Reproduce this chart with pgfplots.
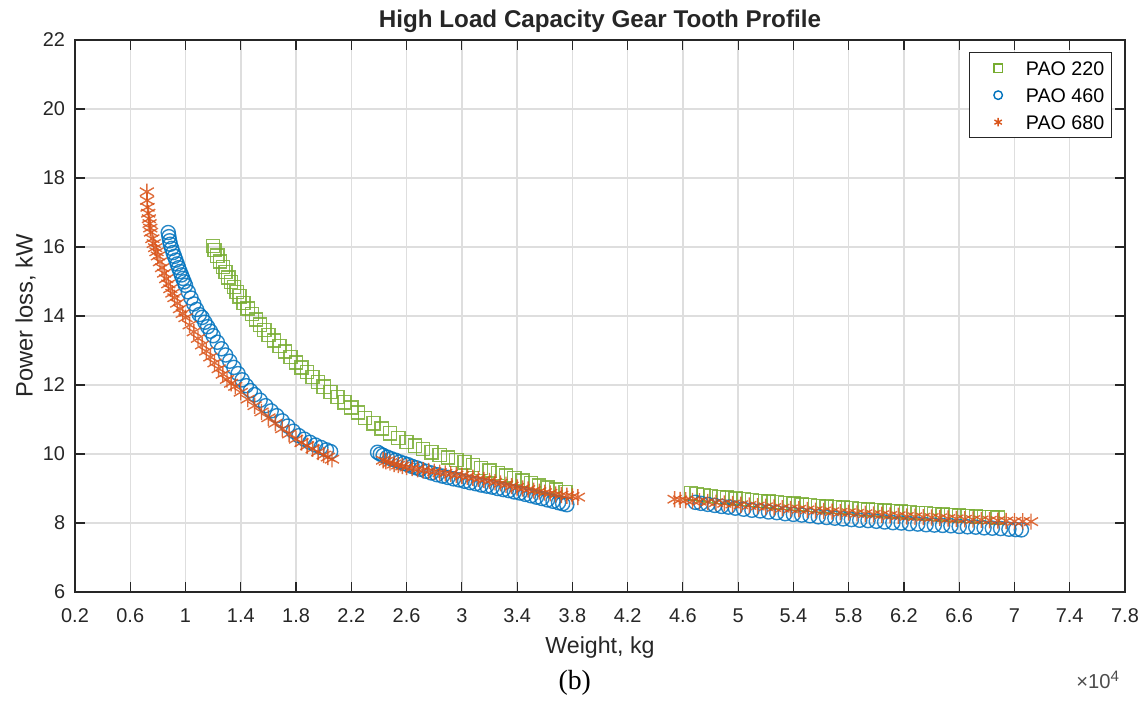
\documentclass[border=0pt]{standalone}
\usepackage{fontspec}
\setmainfont{Liberation Sans}
\newfontfamily\capfont{Liberation Serif}
\usepackage{pgfplots}
\pgfplotsset{compat=1.18}

\definecolor{pao220}{HTML}{77AC30}
\definecolor{pao460}{HTML}{0072BD}
\definecolor{pao680}{HTML}{D95319}
\definecolor{axcol}{HTML}{262626}
\definecolor{gridcol}{HTML}{DEDEDE}

\begin{document}
\begin{tikzpicture}
\begin{axis}[
  name=ax,
  scale only axis, width=14.634cm, height=7.693cm,
  xmin=0.2, xmax=7.8, ymin=6, ymax=22,
  xtick={0.2,0.6,1,1.4,1.8,2.2,2.6,3,3.4,3.8,4.2,4.6,5,5.4,5.8,6.2,6.6,7,7.4,7.8},
  ytick={6,8,10,12,14,16,18,20,22},
  /pgf/number format/assume math mode=true,
  tick label style={font=\fontsize{7.9}{9}\selectfont, text=axcol},
  xticklabel style={anchor=base, yshift=-11.9pt},
  yticklabel style={xshift=-0.4pt},
  major tick length=4.1pt, tick align=inside,
  tick style={axcol, line width=0.45pt},
  axis line style={axcol, line width=0.5pt},
  grid=major, grid style={gridcol, line width=0.6pt},
  title={High Load Capacity Gear Tooth Profile},
  every axis title shift=0pt,
  title style={at={(axis description cs:0.5,1)}, anchor=base, yshift=5.1pt,
    font=\bfseries\fontsize{9.6}{11}\selectfont, text=axcol},
  xlabel={Weight, kg},
  xlabel style={at={(axis description cs:0.5,-0.1105)}, anchor=base,
    font=\fontsize{9.2}{11}\selectfont, text=axcol},
  ylabel={Power loss, kW},
  ylabel style={at={(axis description cs:-0.0403,0.5)}, anchor=base,
    font=\fontsize{9.4}{11}\selectfont, text=axcol},
  legend cell align=left,
  legend style={at={(axis description cs:0.9876,0.978)}, anchor=north east,
    draw=axcol, line width=0.5pt, fill=white,
    inner xsep=2.8pt, inner ysep=0.75pt, row sep=0pt,
    font=\fontsize{7.8}{9}\selectfont, text=black,
    nodes={inner xsep=0pt, inner ysep=0pt, text height=8.15pt, text depth=2.55pt}},
  legend image code/.code={\path[draw=none, fill=none] (0pt,0pt) -- (19.7pt,0pt);
    \path[#1, mark size=1.7pt, opacity=1] plot[only marks] coordinates {(8.7pt,0pt)};},
  clip=false,
]
\addplot[only marks, mark=square, mark size=2.6pt, pao220, line width=0.55pt, opacity=0.85] coordinates {
(1.20,16.03) (1.21,15.92) (1.23,15.75) (1.25,15.58) (1.27,15.42) (1.29,15.27) (1.31,15.12) (1.33,14.98)
(1.35,14.84) (1.37,14.70) (1.39,14.57) (1.42,14.38) (1.45,14.22) (1.48,14.06) (1.51,13.90) (1.54,13.75)
(1.57,13.60) (1.60,13.45) (1.64,13.29) (1.68,13.13) (1.72,12.97) (1.76,12.81) (1.80,12.65) (1.84,12.51)
(1.88,12.37) (1.92,12.23) (1.96,12.09) (2.00,11.95) (2.05,11.80) (2.10,11.65) (2.15,11.50) (2.20,11.35)
(2.25,11.20) (2.30,11.05) (2.36,10.89) (2.42,10.74) (2.48,10.60) (2.54,10.47) (2.60,10.35) (2.66,10.24)
(2.72,10.14) (2.78,10.05) (2.84,9.97) (2.90,9.90) (2.96,9.83) (3.02,9.76) (3.08,9.68) (3.14,9.60)
(3.20,9.52) (3.26,9.45) (3.32,9.38) (3.38,9.30) (3.44,9.23) (3.50,9.16) (3.56,9.09) (3.62,9.03)
(3.68,8.97) (3.75,8.90)
(4.66,8.86) (4.70,8.84) (4.75,8.81) (4.80,8.79) (4.86,8.76) (4.92,8.74) (4.98,8.71) (5.04,8.69)
(5.10,8.66) (5.16,8.64) (5.22,8.62) (5.28,8.60) (5.34,8.58) (5.40,8.56) (5.46,8.54) (5.52,8.52)
(5.58,8.50) (5.64,8.48) (5.70,8.47) (5.76,8.45) (5.82,8.43) (5.88,8.41) (5.94,8.39) (6.00,8.38)
(6.06,8.36) (6.12,8.34) (6.18,8.33) (6.24,8.31) (6.30,8.29) (6.36,8.28) (6.42,8.26) (6.48,8.25)
(6.54,8.23) (6.60,8.22) (6.66,8.21) (6.72,8.19) (6.78,8.18) (6.84,8.17) (6.88,8.16)
};
\addlegendentry{PAO 220}
\addplot[only marks, mark=o, mark size=2.8pt, pao460, line width=0.55pt, opacity=0.85] coordinates {
(0.875,16.42) (0.88,16.30) (0.885,16.18) (0.89,16.08) (0.90,15.96) (0.91,15.84) (0.92,15.73) (0.93,15.62)
(0.94,15.51) (0.95,15.40) (0.96,15.29) (0.97,15.19) (0.98,15.09) (0.99,14.99) (1.00,14.89) (1.02,14.70)
(1.04,14.52) (1.06,14.35) (1.08,14.19) (1.10,14.04) (1.12,13.96) (1.14,13.82) (1.16,13.69) (1.18,13.56)
(1.20,13.43) (1.23,13.24) (1.26,13.05) (1.29,12.87) (1.32,12.69) (1.35,12.51) (1.38,12.33) (1.41,12.15)
(1.44,11.98) (1.47,11.84) (1.50,11.72) (1.54,11.56) (1.58,11.40) (1.62,11.25) (1.66,11.11) (1.70,10.96)
(1.74,10.81) (1.78,10.66) (1.82,10.53) (1.86,10.43) (1.90,10.34) (1.94,10.26) (1.98,10.19) (2.02,10.12)
(2.05,10.07)
(2.39,10.05) (2.41,10.00) (2.43,9.96) (2.46,9.91) (2.49,9.86) (2.52,9.82) (2.55,9.77) (2.58,9.73)
(2.61,9.69) (2.64,9.64) (2.67,9.60) (2.70,9.56) (2.74,9.50) (2.78,9.45) (2.82,9.40) (2.86,9.36)
(2.90,9.32) (2.94,9.28) (2.98,9.25) (3.02,9.21) (3.06,9.17) (3.10,9.14) (3.14,9.10) (3.18,9.07)
(3.22,9.04) (3.26,9.00) (3.30,8.97) (3.34,8.94) (3.38,8.90) (3.42,8.87) (3.46,8.83) (3.50,8.79)
(3.54,8.75) (3.58,8.71) (3.62,8.67) (3.66,8.63) (3.70,8.59) (3.73,8.56) (3.76,8.53)
(4.69,8.60) (4.73,8.57) (4.78,8.54) (4.83,8.51) (4.88,8.48) (4.93,8.46) (4.98,8.43) (5.04,8.40)
(5.10,8.37) (5.16,8.35) (5.22,8.32) (5.28,8.30) (5.34,8.27) (5.40,8.25) (5.46,8.23) (5.52,8.21)
(5.58,8.18) (5.64,8.16) (5.70,8.14) (5.76,8.12) (5.82,8.10) (5.88,8.08) (5.94,8.07) (6.00,8.05)
(6.06,8.03) (6.12,8.01) (6.18,8.00) (6.24,7.98) (6.30,7.97) (6.36,7.95) (6.42,7.94) (6.48,7.93)
(6.54,7.92) (6.60,7.90) (6.66,7.89) (6.72,7.88) (6.78,7.86) (6.84,7.85) (6.90,7.84) (6.96,7.82)
(7.01,7.81) (7.05,7.80)
};
\addlegendentry{PAO 460}
\addplot[only marks, mark=asterisk, mark size=3.2pt, pao680, line width=0.55pt, opacity=0.85] coordinates {
(0.720,17.60) (0.722,17.35) (0.725,17.15) (0.730,16.98) (0.735,16.82) (0.740,16.68) (0.745,16.55) (0.750,16.43)
(0.76,16.24) (0.77,16.10) (0.78,15.98) (0.79,15.86) (0.80,15.74) (0.815,15.57) (0.83,15.40) (0.845,15.24)
(0.86,15.08) (0.875,14.93) (0.89,14.79) (0.905,14.66) (0.92,14.53) (0.94,14.37) (0.96,14.21) (0.98,14.07)
(1.00,13.95) (1.03,13.74) (1.06,13.54) (1.09,13.35) (1.12,13.16) (1.15,12.98) (1.18,12.81) (1.21,12.64)
(1.24,12.47) (1.27,12.31) (1.30,12.16) (1.33,12.05) (1.36,11.96) (1.40,11.79) (1.45,11.59) (1.50,11.40)
(1.55,11.22) (1.60,11.05) (1.65,10.89) (1.70,10.73) (1.75,10.58) (1.80,10.43) (1.84,10.33) (1.88,10.24)
(1.92,10.15) (1.96,10.06) (2.00,9.97) (2.03,9.91) (2.06,9.85)
(2.43,9.82) (2.45,9.79) (2.48,9.75) (2.51,9.71) (2.54,9.68) (2.57,9.65) (2.60,9.62) (2.64,9.59)
(2.68,9.56) (2.72,9.53) (2.76,9.51) (2.80,9.49) (2.84,9.46) (2.88,9.44) (2.92,9.42) (2.96,9.39)
(3.00,9.37) (3.04,9.34) (3.08,9.31) (3.12,9.28) (3.16,9.25) (3.20,9.22) (3.24,9.18) (3.28,9.15)
(3.32,9.11) (3.36,9.07) (3.40,9.03) (3.44,9.00) (3.48,8.97) (3.52,8.94) (3.56,8.91) (3.60,8.88)
(3.64,8.86) (3.68,8.83) (3.72,8.81) (3.76,8.79) (3.80,8.77) (3.84,8.75)
(4.54,8.69) (4.58,8.67) (4.62,8.66) (4.67,8.64) (4.72,8.63) (4.78,8.61) (4.84,8.59) (4.90,8.57)
(4.96,8.55) (5.02,8.53) (5.08,8.51) (5.14,8.49) (5.20,8.47) (5.26,8.45) (5.32,8.43) (5.38,8.41)
(5.44,8.40) (5.50,8.38) (5.56,8.36) (5.62,8.35) (5.68,8.33) (5.74,8.31) (5.80,8.30) (5.86,8.28)
(5.92,8.27) (5.98,8.25) (6.04,8.24) (6.10,8.22) (6.16,8.21) (6.22,8.19) (6.28,8.18) (6.34,8.17)
(6.40,8.16) (6.46,8.15) (6.52,8.13) (6.58,8.12) (6.64,8.11) (6.70,8.10) (6.76,8.09) (6.82,8.08)
(6.88,8.07) (6.94,8.06) (7.00,8.05) (7.06,8.05) (7.12,8.04)
};
\addlegendentry{PAO 680}
\node[anchor=base west, inner sep=0pt, text=black!70, font=\fontsize{8}{9}\selectfont]
  at (axis description cs:0.9533,-0.1757) {×10\textsuperscript{4}};
\node[anchor=base, inner sep=0pt, font=\capfont\fontsize{11}{13}\selectfont]
  at (axis description cs:0.476,-0.1775) {(b)};
\end{axis}
\pgfresetboundingbox
\path[use as bounding box] ([shift={(-1.0453cm,-1.5052cm)}]ax.south west)
  rectangle ([shift={(14.9544cm,8.2509cm)}]ax.south west);
\end{tikzpicture}
\end{document}
